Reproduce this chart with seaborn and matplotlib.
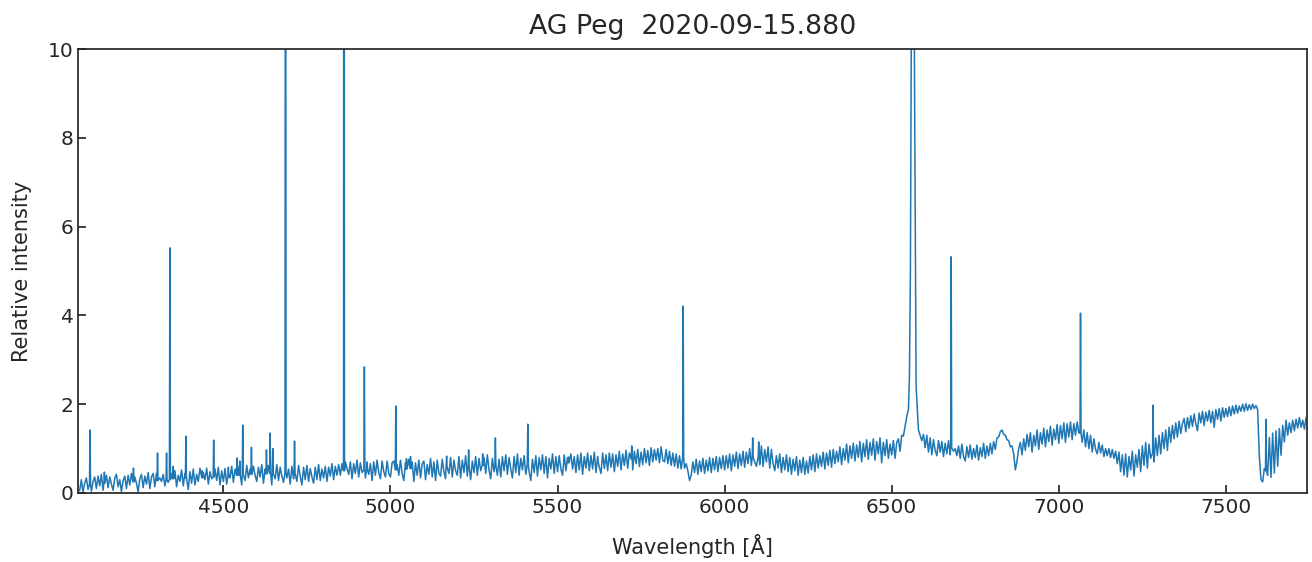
import numpy as np
import pandas as pd
import matplotlib
matplotlib.use("Agg")
import matplotlib.pyplot as plt
import seaborn as sns

# ---------------- data ----------------
# continuum on a 5 A grid, segment by segment
grid_start = 4070
grid_step = 5
seg1 = [0.05,0.30,0.02,0.22,0.34,0.08,0.28,0.04,0.26,0.36,
        0.10,0.38,0.16,0.42,0.06,0.30,0.40,0.12,0.36,0.20,
        0.06,0.34,0.42,0.14,0.30,0.03,0.28,0.38,0.10,0.40,
        0.18,0.44,0.08,0.36,0.22,0.02,0.32,0.42,0.12,0.38,
        0.20,0.46,0.10,0.36,0.44,0.14,0.44,0.08,0.34,0.26,
        0.42,0.16,0.48,0.24,0.10,0.44,0.22,0.50,0.14,0.40,
        0.26,0.52,0.16,0.44,0.30,0.08,0.48,0.22,0.54,0.18,
        0.42,0.26,0.56,0.14,0.46,0.30,0.56,0.20,0.48,0.32,
        0.22,0.54,0.28,0.58,0.18,0.50]                       # 4070-4495
seg2 = [0.26,0.55,0.20,0.52,0.34,0.60,0.24,0.54,0.30,0.58,
        0.38,0.18,0.56,0.28,0.62,0.34,0.54,0.22,0.60,0.40,
        0.26,0.58,0.36,0.64,0.22,0.54,0.30,0.62,0.40,0.18,
        0.56,0.32,0.64,0.28,0.58,0.38,0.24,0.60,0.34,0.54,
        0.20,0.60,0.32,0.54,0.26,0.62,0.38,0.18,0.58,0.30,
        0.62,0.26,0.55,0.36,0.22,0.58,0.30,0.64,0.28,0.54,
        0.34,0.60,0.26,0.58,0.38,0.66,0.30,0.60,0.40,0.64,
        0.40,0.66,0.50,0.70,0.55,0.42,0.70,0.32,0.66,0.44,
        0.74,0.36,0.68,0.46,0.76,0.34,0.70,0.42,0.66,0.28,
        0.70,0.40,0.74,0.46,0.32,0.72,0.48,0.36,0.72,0.44]  # 4500-4995
seg3 = [0.36,0.68,0.72,0.30,0.64,0.40,0.74,0.44,0.28,0.68,
        0.46,0.76,0.36,0.70,0.26,0.68,0.40,0.74,0.34,0.66,
        0.72,0.30,0.64,0.42,0.78,0.36,0.70,0.28,0.74,0.44,
        0.38,0.76,0.48,0.32,0.72,0.44,0.80,0.36,0.74,0.50,
        0.40,0.82,0.34,0.74,0.46,0.84,0.38,0.76,0.30,0.72,
        0.46,0.82,0.40,0.78,0.50,0.34,0.80,0.44,0.86,0.52,
        0.32,0.78,0.48,0.84,0.40,0.76,0.36,0.82,0.50,0.86,
        0.42,0.80,0.54,0.34,0.82,0.46,0.88,0.40,0.78,0.52,
        0.84,0.42,0.80,0.48,0.28,0.76,0.46,0.84,0.38,0.80,
        0.52,0.86,0.44,0.82,0.34,0.78,0.54,0.88,0.44,0.82]  # 5000-5495
seg4 = [0.48,0.84,0.54,0.40,0.86,0.50,0.80,0.44,0.88,0.54,
        0.82,0.46,0.86,0.52,0.90,0.42,0.82,0.56,0.90,0.50,
        0.84,0.54,0.92,0.46,0.86,0.58,0.44,0.90,0.55,0.86,
        0.50,0.90,0.58,0.88,0.48,0.86,0.60,0.94,0.52,0.88,
        0.62,0.96,0.56,0.90,0.64,0.52,0.94,0.66,0.98,0.60,
        0.92,0.64,1.00,0.68,0.96,0.62,1.02,0.70,0.98,0.74,
        1.00,0.68,1.04,0.74,0.70,0.98,0.66,0.94,0.62,0.90,
        0.60,0.88,0.56,0.84,0.54,0.80,0.56,0.66,0.50,0.28,
        0.40,0.70,0.46,0.76,0.42,0.72,0.48,0.78,0.44,0.74,
        0.50,0.80,0.46,0.78,0.52,0.82,0.48,0.80,0.55,0.84]  # 5500-5995
seg5 = [0.52,0.84,0.56,0.88,0.50,0.86,0.60,0.92,0.55,0.88,
        0.62,0.94,0.58,0.92,0.66,1.00,0.62,1.04,0.70,0.60,
        1.00,0.64,1.06,0.60,0.98,0.70,1.04,0.56,0.98,0.66,
        0.50,0.84,0.56,0.88,0.46,0.80,0.52,0.86,0.48,0.80,
        0.42,0.76,0.50,0.82,0.40,0.74,0.46,0.80,0.42,0.72,
        0.45,0.82,0.52,0.86,0.48,0.88,0.56,0.84,0.60,0.92,
        0.54,0.90,0.62,0.96,0.58,0.98,0.66,0.94,0.70,1.04,
        0.64,1.00,0.74,1.10,0.68,1.06,0.78,1.12,0.72,1.08,
        0.80,1.16,0.70,1.12,0.82,1.20,0.76,1.14,0.85,1.22,
        0.74,1.16,0.88,1.24,0.68,1.14,0.84,1.20,0.78,1.10]  # 6000-6495
seg6 = [0.86,1.18,0.78,1.14,1.22,0.94,1.30,1.28,1.50,1.72,
        1.88,2.00,2.00,2.00,2.00,2.00,1.42,1.30,1.18,1.32,
        1.02,1.30,0.92,1.24,0.86,1.20,0.96,0.84,1.18,0.92,
        1.16,0.82,1.12,0.88,1.18,0.86,1.10,0.94,1.00,0.84,
        1.06,0.78,1.10,0.82,0.72,1.04,0.80,1.08,0.76,1.00,
        0.80,1.08,0.74,1.02,0.82,1.12,0.78,1.06,0.84,1.12,
        0.88,1.16,0.98,1.24,1.26,1.38,1.42,1.32,1.30,1.20,
        1.18,1.04,1.06,0.88,0.52,0.72,1.00,1.14,0.86,1.22,
        0.96,1.32,1.04,1.36,0.92,1.30,1.06,1.42,0.98,1.36,
        1.10,1.46,1.04,1.42,1.16,1.50,1.08,1.44,1.20,1.54]  # 6500-6995
seg7 = [1.12,1.52,1.22,1.58,1.14,1.56,1.26,1.60,1.20,1.56,
        1.30,1.60,1.35,1.42,1.14,1.42,1.04,1.36,1.00,1.30,
        0.92,1.22,0.98,0.88,1.14,0.90,1.08,0.82,1.00,0.84,
        1.00,0.80,0.98,0.78,0.94,0.66,0.92,0.48,0.86,0.40,
        0.88,0.36,0.82,0.52,0.94,0.38,0.86,0.58,0.98,0.48,
        1.06,0.62,1.14,0.56,1.10,0.78,1.20,0.70,1.24,0.84,
        1.30,0.88,1.36,1.00,1.42,0.96,1.48,1.14,1.52,1.22,
        1.58,1.26,1.62,1.34,1.56,1.68,1.38,1.70,1.46,1.74,
        1.50,1.78,1.56,1.40,1.80,1.58,1.84,1.52,1.82,1.62,
        1.86,1.58,1.84,1.48,1.88,1.66,1.90,1.62,1.92,1.70]  # 7000-7495
seg8 = [1.90,1.72,1.94,1.74,1.96,1.78,1.98,1.80,1.96,1.84,
        2.00,1.84,2.01,1.86,1.99,1.88,2.00,1.90,1.97,1.88,
        0.85,0.30,0.25,0.55,0.50,0.40,1.25,0.35,1.35,0.45,
        1.40,0.60,1.45,0.85,1.52,1.15,1.64,1.30,1.58,1.36,
        1.64,1.40,1.66,1.46,1.70,1.48,1.64,1.44,1.70]       # 7500-7740

# narrow emission lines: centre, peak, local continuum
line_wl   = [4101, 4144, 4231, 4303, 4330, 4340, 4350, 4388, 4437, 4471,
             4515, 4541, 4549, 4558, 4584, 4629, 4640, 4648, 4686, 4713,
             4861, 4922, 4930, 5016, 5048, 5060, 5168, 5234, 5276, 5314,
             5411, 5533, 5620, 5722, 5876, 6084, 6102, 6678, 7065, 7282, 7620]
line_peak = [1.42, 0.47, 0.56, 0.90, 0.90, 5.52, 0.60, 1.28, 0.50, 1.19,
             0.58, 0.79, 0.72, 1.53, 1.03, 0.97, 1.35, 1.00, 25.0, 1.17,
             30.0, 2.84, 0.70, 1.96, 0.77, 0.82, 0.83, 0.97, 0.88, 1.24,
             1.55, 0.81, 0.82, 1.06, 4.21, 1.24, 1.15, 5.32, 4.05, 1.98, 1.66]
line_base = [0.20, 0.22, 0.25, 0.28, 0.30, 0.30, 0.32, 0.34, 0.34, 0.36,
             0.38, 0.40, 0.40, 0.42, 0.42, 0.43, 0.44, 0.44, 0.45, 0.44,
             0.50, 0.52, 0.52, 0.52, 0.54, 0.55, 0.58, 0.60, 0.62, 0.62,
             0.64, 0.68, 0.70, 0.76, 0.80, 0.80, 0.82, 1.02, 1.35, 0.90, 0.50]

# broad H-alpha profile
halpha_wl  = [6553, 6556, 6559, 6561, 6563, 6565, 6567.5, 6573]
halpha_val = [2.6, 5.0, 10.5, 35.0, 60.0, 35.0, 10.5, 2.4]

title = "AG Peg  2020-09-15.880"
xlabel = "Wavelength [Å]"
ylabel = "Relative intensity"
xlim = (4066, 7742)
ylim = (0, 10)
yticks = [0, 2, 4, 6, 8, 10]
xticks = [4500, 5000, 5500, 6000, 6500, 7000, 7500]

# ---------------- assemble ----------------
cont = seg1 + seg2 + seg3 + seg4 + seg5 + seg6 + seg7 + seg8
grid_wl = grid_start + grid_step * np.arange(len(cont))
keep = np.ones(len(cont), dtype=bool)
for w in line_wl:
    keep &= np.abs(grid_wl - w) >= 3
keep &= ~((grid_wl > 6551) & (grid_wl < 6576))

wl = list(grid_wl[keep])
fl = list(np.array(cont)[keep])
for w, p, b in zip(line_wl, line_peak, line_base):
    wl += [w - 1.5, w, w + 1.5]
    fl += [b, p, b]
wl += halpha_wl
fl += halpha_val

df = pd.DataFrame({"wl": wl, "flux": fl}).sort_values("wl")

# ---------------- plot ----------------
sns.set_style("ticks")
plt.rcParams["font.family"] = ["DejaVu Sans"]
plt.rcParams["xtick.direction"] = "in"
plt.rcParams["ytick.direction"] = "in"

fig = plt.figure(figsize=(13.12, 5.62), dpi=100)
ax = fig.add_axes([0.0597, 0.1228, 0.9363, 0.790])
sns.lineplot(data=df, x="wl", y="flux", ax=ax, color="#1f77b4",
             linewidth=1.1, estimator=None, sort=False)

ax.set_xlim(*xlim)
ax.set_ylim(*ylim)
ax.set_xticks(xticks)
ax.set_yticks(yticks)
ax.tick_params(axis="both", which="major", labelsize=14.5, length=6,
               width=1.25, color=".15", top=False, right=False)
for s in ax.spines.values():
    s.set_linewidth(1.25)
    s.set_color(".15")
ax.set_xlabel(xlabel, fontsize=15, labelpad=12)
ax.set_ylabel(ylabel, fontsize=15, labelpad=11)
ax.set_title(title, fontsize=19.3, pad=11)

fig.savefig("out.png", dpi=100)
